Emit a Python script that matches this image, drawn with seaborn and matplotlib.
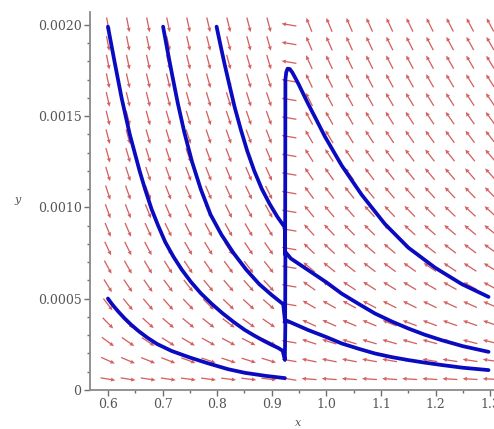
import numpy as np
import pandas as pd
import seaborn as sns
import matplotlib.pyplot as plt
from matplotlib.ticker import FixedLocator, MultipleLocator

# solution curves (x, y)
# curve from (0.6, 0.002): falls to x~0.924, jumps, continues to the right
c1_x = [0.600, 0.612, 0.625, 0.640, 0.649, 0.658, 0.668, 0.680, 0.692, 0.705, 0.720, 0.735, 0.752, 0.770, 0.790,
        0.810, 0.830, 0.850, 0.868, 0.885, 0.900, 0.912, 0.920, 0.924,
        0.925, 0.935, 0.967, 1.000, 1.028, 1.060, 1.089, 1.120, 1.150, 1.180, 1.211, 1.250, 1.297]
c1_y = [0.00199, 0.00180, 0.00160, 0.00140, 0.00130, 0.00120, 0.00110, 0.00099, 0.00090, 0.00081, 0.00073, 0.00066, 0.000592, 0.00053, 0.000472,
        0.00042, 0.000373, 0.00033, 0.000298, 0.00027, 0.000247, 0.00023, 0.000215, 0.000165,
        0.000383, 0.00037, 0.000328, 0.00029, 0.000255, 0.000225, 0.00020, 0.00018, 0.000164, 0.00015, 0.000137, 0.000122, 0.000109]

# curve from (0.7, 0.002)
c2_x = [0.701, 0.709, 0.718, 0.728, 0.740, 0.754, 0.770, 0.788, 0.808, 0.830, 0.853, 0.877, 0.900, 0.921, 0.9245,
        0.925, 0.935, 0.967, 1.000, 1.028, 1.060, 1.089, 1.120, 1.150, 1.180, 1.211, 1.250, 1.297]
c2_y = [0.00199, 0.00186, 0.00172, 0.00157, 0.00141, 0.00125, 0.00110, 0.00096, 0.00085, 0.00075, 0.00066, 0.00058, 0.00052, 0.00047, 0.00037,
        0.000756, 0.00072, 0.000656, 0.00059, 0.000528, 0.00047, 0.000419, 0.000375, 0.000337, 0.000303, 0.000273, 0.00024, 0.000209]

# curve from (0.8, 0.002), jumps up to the peak
c3_x = [0.799, 0.806, 0.814, 0.8225, 0.832, 0.843, 0.855, 0.868, 0.882, 0.896, 0.910, 0.924, 0.9245,
        0.925, 0.9265, 0.929, 0.933, 0.9375, 0.943, 0.950, 0.958, 0.967, 0.980, 0.997, 1.028, 1.0645,
        1.107, 1.150, 1.199, 1.248, 1.297]
c3_y = [0.00199, 0.00189, 0.00178, 0.00167, 0.00155, 0.00143, 0.00131, 0.00120, 0.00110, 0.00102, 0.00095, 0.00089, 0.00074,
        0.00170, 0.00174, 0.00176, 0.001758, 0.00174, 0.00171, 0.00167, 0.00162, 0.001565, 0.00149, 0.00139, 0.00123, 0.00107,
        0.00091, 0.00078, 0.00067, 0.00058, 0.00051]

# curve from (0.6, 0.0005)
c4_x = [0.600, 0.606, 0.612, 0.620, 0.630, 0.642, 0.656, 0.672, 0.690, 0.7165, 0.750, 0.7835, 0.820, 0.851, 0.890, 0.924]
c4_y = [0.000501, 0.000476, 0.000454, 0.000426, 0.000394, 0.000359, 0.000323, 0.000287, 0.000252, 0.000214, 0.000178, 0.000146, 0.000114, 0.000094, 0.000077, 0.000065]

curves = [(c1_x, c1_y), (c2_x, c2_y), (c3_x, c3_y), (c4_x, c4_y)]

# direction field: 20 x 20 arrows, slope dy/dx = -k*y/x, reversed right of the jump
split_x = 0.925
k_left = 5.0
k_right = 3.6
field_x = np.linspace(0.6, 1.3, 20)
field_y = np.linspace(0.00006, 0.002, 20)

x_ticks = [0.6, 0.7, 0.8, 0.9, 1.0, 1.1, 1.2, 1.3]
x_labels = ["0.6", "0.7", "0.8", "0.9", "1.0", "1.1", "1.2", "1.3"]
y_ticks = [0, 0.0005, 0.0010, 0.0015, 0.0020]
y_labels = ["0", "0.0005", "0.0010", "0.0015", "0.0020"]

sns.set_style("ticks")
plt.rcParams['font.family'] = ['DejaVu Serif']

fig = plt.figure(figsize=(4.94, 4.29), dpi=100)
ax = fig.add_axes([0.182, 0.0909, 0.818, 0.881])
ax.set_xlim(0.567, 1.307)
ax.set_ylim(0, 0.00207)

# screen scale (px per data unit) so arrows point the right way on screen
sx = 0.818 * 494 / (1.307 - 0.567)
sy = 0.881 * 429 / 0.00207

X, Y = np.meshgrid(field_x, field_y)
left = X < split_x
slope = np.where(left, -k_left * Y / X, -k_right * Y / X)
slope = np.where(np.abs(X - 0.9316) < 0.005, -0.0005, slope)
d = np.where(left, 1.0, -1.0)
U = d * sx
V = d * slope * sy
n = np.hypot(U, V)
ax.quiver(X, Y, U / n, V / n, angles='uv', scale_units='inches', scale=1 / 0.15,
          pivot='mid', color='#c83a3a', alpha=0.8, width=0.0032,
          headwidth=3.2, headlength=3.5, headaxislength=3.2, zorder=1)

for cx, cy in curves:
    sns.lineplot(x=cx, y=cy, sort=False, estimator=None, ax=ax,
                 color='#0a0ac0', lw=2.7, zorder=3)

for s in ['top', 'right']:
    ax.spines[s].set_visible(False)
for s in ['left', 'bottom']:
    ax.spines[s].set_color('#8a8a8a')
    ax.spines[s].set_linewidth(1.3)

ax.xaxis.set_major_locator(FixedLocator(x_ticks))
ax.set_xticklabels(x_labels)
ax.yaxis.set_major_locator(FixedLocator(y_ticks))
ax.set_yticklabels(y_labels)
ax.xaxis.set_minor_locator(MultipleLocator(0.05))
ax.yaxis.set_minor_locator(MultipleLocator(0.0001))
ax.tick_params(which='major', direction='out', length=4, width=1, color='#707070',
               labelcolor='#555555', labelsize=9, pad=2)
ax.tick_params(which='minor', direction='out', length=2.5, width=1, color='#707070')

ax.set_xlabel('x', fontstyle='italic', fontsize=8, color='#555555')
ax.set_ylabel('y', fontstyle='italic', fontsize=8, color='#555555', rotation=0)
ax.xaxis.set_label_coords(0.515, -0.075)
ax.yaxis.set_label_coords(-0.178, 0.49)

fig.savefig('out.png', dpi=100)
